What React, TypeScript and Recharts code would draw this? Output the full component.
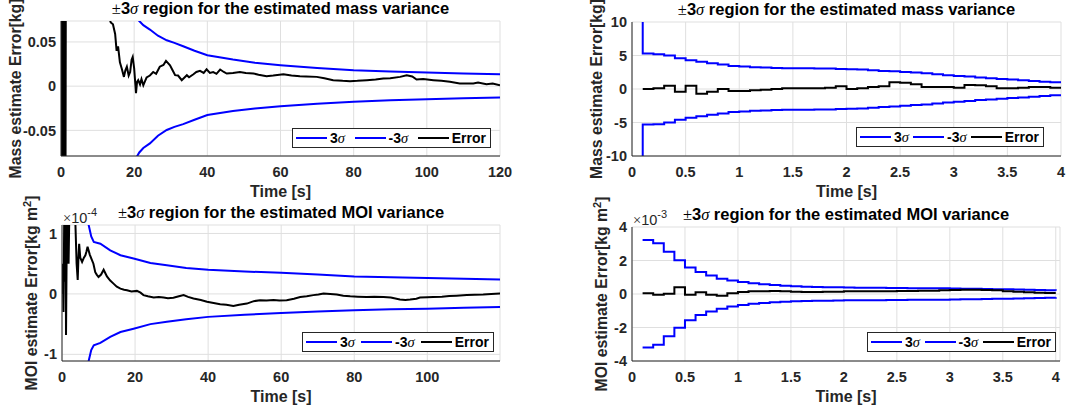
import React from 'react';
import { LineChart, Line, XAxis, YAxis, CartesianGrid, Legend } from 'recharts';

// ---------------- Data ----------------
// Top-left: mass estimate error over 0–120 s  [kg]
const massLongSigmaT = [20, 21.4, 22.5, 24.3, 26.5, 28.9, 31, 33.4, 36.5, 40, 47, 53, 60, 70, 80, 90, 100, 110, 120];
const massLongSigmaUp = [0.079, 0.0737, 0.069, 0.064, 0.057, 0.0519, 0.049, 0.0451, 0.04, 0.035, 0.0301, 0.0265, 0.0237, 0.0205, 0.018, 0.0166, 0.0154, 0.0144, 0.0135];
const massLongSigmaLo = [-0.085, -0.075, -0.07, -0.0647, -0.056, -0.0496, -0.046, -0.0429, -0.038, -0.0327, -0.0282, -0.0252, -0.0226, -0.0198, -0.0177, -0.016, -0.0147, -0.0137, -0.0128];
const massLongErrT = [
  0, 0.15, 0.3, 0.45, 0.6, 0.75, 0.9, 1.05, 1.2, 1.35,
  5, 10, 13, 13.6, 14.2, 14.8, 15.2, 15.6, 16.1, 16.6,
  17.2, 17.6, 18, 18.5, 18.9, 19.3, 19.6, 20, 20.5, 20.8,
  21.1, 21.6, 22, 22.5, 23, 23.4, 24.3, 25.2, 26, 27,
  28, 28.7, 29.8, 30.5, 31.2, 32, 33, 34.4, 35, 36.2,
  37, 38, 39, 39.8, 40.7, 41.6, 42.5, 43.5, 44.5, 45.3,
  47, 48.9, 50.5, 52.6, 54, 56.2, 58, 60.8, 63, 65.3,
  67, 69.9, 72, 74.4, 77, 79, 81, 83.6, 86, 88.1,
  90, 92.7, 94.5, 96, 97.2, 99, 101.8, 104, 106.3, 109,
  112.7, 114, 116.3, 118, 120,
];
const massLongErr = [
  0, 0.3, -0.3, 0.3, -0.3, 0.25, -0.25, 0.2, -0.2, 0.2,
  0.15, 0.1, 0.08, 0.072, 0.07, 0.059, 0.04, 0.045, 0.027, 0.02,
  0.0105, 0.018, 0.022, 0.012, 0.016, 0.03, 0.033, 0.02, -0.008, 0.005,
  0.0068, 0.002, 0.008, 0.001, 0.006, 0.0098, 0.012, 0.016, 0.014, 0.022,
  0.024, 0.0286, 0.0237, 0.018, 0.0124, 0.012, 0.0068, 0.0124, 0.01, 0.0135,
  0.016, 0.0173, 0.015, 0.019, 0.015, 0.016, 0.014, 0.0188, 0.016, 0.0143,
  0.015, 0.016, 0.015, 0.0143, 0.013, 0.0113, 0.012, 0.0135, 0.012, 0.0113,
  0.011, 0.0105, 0.009, 0.0068, 0.006, 0.0056, 0.006, 0.0068, 0.0075, 0.0086,
  0.009, 0.0105, 0.0124, 0.011, 0.0075, 0.008, 0.0068, 0.006, 0.0049, 0.003,
  0.003, 0.004, 0.0023, 0.003, 0.0011,
];

// Right panels: stair samples every 0.1 s  [s]
const stepTimes = [0.1, 0.2, 0.3, 0.4, 0.5, 0.6, 0.7, 0.8, 0.9, 1.0, 1.1, 1.2, 1.3, 1.4, 1.5, 1.6, 1.7, 1.8, 1.9, 2.0,
  2.1, 2.2, 2.3, 2.4, 2.5, 2.6, 2.7, 2.8, 2.9, 3.0, 3.1, 3.2, 3.3, 3.4, 3.5, 3.6, 3.7, 3.8, 3.9, 4.0];

// Top-right: mass estimate error over 0–4 s  [kg] (first sample is the large initial bound)
const massShortSigmaT = [0.1, ...stepTimes];
const massShortSigmaUp = [30, 5.3, 5.2, 5.0, 4.6, 4.3, 4.05, 3.85, 3.65, 3.45, 3.35, 3.25, 3.2, 3.15, 3.1, 3.1, 3.1, 3.05, 3.05, 3.0, 2.95,
  2.9, 2.8, 2.7, 2.65, 2.55, 2.45, 2.35, 2.2, 2.05, 1.95, 1.85, 1.7, 1.6, 1.5, 1.4, 1.3, 1.2, 1.1, 1.0, 0.9];
const massShortSigmaLo = [-30, -5.3, -5.25, -5.0, -4.6, -4.3, -4.05, -3.85, -3.65, -3.45, -3.35, -3.25, -3.2, -3.15, -3.1, -3.1, -3.1, -3.05, -3.05, -3.0, -2.95,
  -2.9, -2.8, -2.7, -2.6, -2.5, -2.4, -2.3, -2.15, -2.0, -1.9, -1.8, -1.65, -1.55, -1.45, -1.35, -1.25, -1.15, -1.05, -0.95, -0.9];
const massShortErr = [0.0, 0.1, 0.5, -0.4, 0.5, -0.7, -0.4, 0.0, -0.3, -0.3,
  -0.2, -0.1, 0.0, 0.1, 0.1, 0.1, 0.1, 0.2, 0.4, 0.0,
  0.1, 0.3, 0.4, 1.0, 0.95, 0.7, 0.3, 0.3, 0.3, 0.2,
  0.6, 0.55, 0.4, 0.1, 0.1, 0.2, 0.3, 0.3, 0.2, 0.2];

// Bottom-left: MOI estimate error over 0–120 s  [x1e-4 kg m^2]
const moiLongSigmaT = [7, 7.3, 8.0, 8.7, 10.5, 13.2, 16, 19.6, 24.2, 28.7, 34, 40, 50, 60, 70, 80, 90, 100, 110, 119.9];
const moiLongSigmaUp = [1.3, 1.14, 0.95, 0.86, 0.83, 0.72, 0.64, 0.585, 0.51, 0.475, 0.43, 0.4, 0.37, 0.35, 0.32, 0.29, 0.275, 0.265, 0.25, 0.237];
const moiLongSigmaLo = [-1.3, -1.11, -0.93, -0.85, -0.81, -0.71, -0.63, -0.575, -0.5, -0.46, -0.42, -0.38, -0.345, -0.315, -0.29, -0.27, -0.255, -0.245, -0.23, -0.215];
const moiLongErrT = [
  0, 0.2, 0.4, 0.6, 0.8, 1.0, 1.1, 1.3, 1.5, 1.8,
  2.0, 2.5, 3.0, 3.6, 4.0, 4.3, 4.5, 4.7, 5.0, 5.5,
  6.0, 6.4, 6.7, 7.0, 7.6, 8.2, 8.6, 9.1, 9.5, 10,
  10.7, 11.4, 11.8, 12.3, 13.2, 14.1, 15, 16, 17, 17.8,
  19, 20.5, 21.5, 22.3, 23.5, 25.1, 26.5, 27.8, 29, 30.5,
  32, 33.3, 34.5, 36, 38, 39.7, 41.5, 43.3, 45, 46.9,
  48.5, 50.6, 52.5, 54.2, 56, 57.9, 59.5, 61.5, 63.5, 65.2,
  67, 68.8, 70.2, 71.6, 73.4, 75.2, 77, 78.9, 81, 83.4,
  85.5, 88, 90, 92.5, 94, 95.3, 97, 98, 100, 101.6,
  104, 106, 108, 110.8, 113, 115.3, 117.5, 119.9,
];
const moiLongErr = [
  0, 0.5, -0.3, 1.2, 0.2, 1.2, -0.68, 0.9, 1.2, 0.5,
  1.3, 1.5, 1.5, 1.3, 0.5, 0.23, 0.6, 0.83, 0.6, 0.53,
  0.6, 0.64, 0.7, 0.78, 0.65, 0.56, 0.5, 0.36, 0.32, 0.28,
  0.32, 0.4, 0.35, 0.29, 0.22, 0.17, 0.12, 0.088, 0.07, 0.06,
  0.04, 0.05, 0.02, -0.02, -0.04, -0.06, -0.05, -0.06, -0.07, -0.065,
  -0.04, -0.02, -0.05, -0.077, -0.1, -0.13, -0.15, -0.17, -0.18, -0.2,
  -0.18, -0.16, -0.12, -0.105, -0.11, -0.1, -0.11, -0.105, -0.08, -0.05,
  -0.04, -0.02, -0.01, 0.005, 0.0, -0.01, -0.03, -0.04, -0.045, -0.05,
  -0.045, -0.05, -0.06, -0.094, -0.1, -0.094, -0.08, -0.06, -0.055, -0.05,
  -0.045, -0.035, -0.03, -0.02, -0.015, -0.01, 0.0, 0.005,
];

// Bottom-right: MOI estimate error over 0–4 s  [x1e-3 kg m^2]
const moiShortSigmaUp = [3.23, 3.03, 2.52, 2.02, 1.58, 1.31, 1.11, 0.91, 0.81, 0.71,
  0.64, 0.58, 0.53, 0.49, 0.46, 0.44, 0.42, 0.41, 0.4, 0.39,
  0.38, 0.37, 0.37, 0.36, 0.36, 0.35, 0.35, 0.34, 0.34, 0.33,
  0.32, 0.31, 0.3, 0.29, 0.28, 0.27, 0.26, 0.24, 0.22, 0.2];
const moiShortSigmaLo = [-3.19, -3.03, -2.52, -2.02, -1.56, -1.25, -1.05, -0.88, -0.75, -0.65,
  -0.58, -0.53, -0.49, -0.46, -0.44, -0.42, -0.41, -0.4, -0.39, -0.38,
  -0.38, -0.37, -0.37, -0.36, -0.36, -0.35, -0.35, -0.34, -0.34, -0.33,
  -0.32, -0.31, -0.3, -0.29, -0.28, -0.27, -0.26, -0.24, -0.22, -0.2];
const moiShortErr = [0.04, -0.04, 0.02, 0.4, -0.04, 0.1, -0.04, -0.1, 0.04, 0.12,
  0.16, 0.16, 0.18, 0.16, 0.14, 0.12, 0.12, 0.14, 0.14, 0.16,
  0.16, 0.16, 0.16, 0.17, 0.18, 0.18, 0.2, 0.2, 0.22, 0.24,
  0.26, 0.26, 0.24, 0.22, 0.16, 0.14, 0.1, 0.08, 0.06, 0.06];

// Axis ticks
const longXTicks = [0, 20, 40, 60, 80, 100, 120];
const longXTicksMoi = [0, 20, 40, 60, 80, 100];
const shortXTicks = [0, 0.5, 1, 1.5, 2, 2.5, 3, 3.5, 4];
const massLongYTicks = [-0.05, 0, 0.05];
const massShortYTicks = [-10, -5, 0, 5, 10];
const moiLongYTicks = [-1, 0, 1];
const moiShortYTicks = [-4, -2, 0, 2, 4];
const legendOrder = ['3σ', '-3σ', 'Error'];

// ---------------- Styling ----------------
const SANS = '"Liberation Sans", Arial, Helvetica, sans-serif';
const SERIF = '"Liberation Serif", "DejaVu Serif", serif';
const AX = '#262626';
const GRID = '#dfdfdf';
const BLUE = '#0000ff';
const XH = 44;

type Series = { name: string; t: number[]; v: number[]; color: string; step: boolean; width: number };

const zip = (t: number[], v: number[]) => t.map((x, i) => ({ t: x, v: v[i] }));

const EmptyTick = () => <g />;

const sigmaText = (name: string) => {
  const i = name.indexOf('σ');
  if (i < 0) return <span>{name}</span>;
  return (
    <span>
      {name.slice(0, i)}
      <span style={{ fontFamily: SERIF, fontStyle: 'italic', fontWeight: 'normal', fontSize: 14.5 }}>σ</span>
      {name.slice(i + 1)}
    </span>
  );
};

const LegendBox = (props: any) => {
  const items = [...(props.payload || [])].sort(
    (a: any, b: any) => legendOrder.indexOf(a.value) - legendOrder.indexOf(b.value)
  );
  return (
    <div
      style={{
        boxSizing: 'border-box', width: '100%', height: 20, border: `1px solid ${AX}`, background: '#fff',
        display: 'flex', alignItems: 'center', justifyContent: 'space-between', padding: '0 4px 0 3px',
        fontFamily: SANS, fontWeight: 'bold', fontSize: 14, color: '#000', lineHeight: '18px', whiteSpace: 'nowrap',
      }}
    >
      {items.map((it: any) => (
        <span key={it.value} style={{ display: 'flex', alignItems: 'center' }}>
          <svg width={31} height={4} style={{ marginRight: 3 }}>
            <line x1={0} y1={2} x2={31} y2={2} stroke={it.color} strokeWidth={2} />
          </svg>
          {sigmaText(it.value)}
        </span>
      ))}
    </div>
  );
};

const makeXLabel = () => (props: any) => {
  const vb = props.viewBox || { x: 0, y: 0, width: 0 };
  return (
    <text x={vb.x + vb.width / 2} y={vb.y + 41} textAnchor="middle" fontFamily={SANS} fontWeight="bold" fontSize={16} fill={AX}>
      Time [s]
    </text>
  );
};

// Y-axis label, plus the panel title and exponent (placed relative to the plot box)
const makeYLabel = (kind: 'mass' | 'moi', baseline: number, word: string, plotW: number, exponent?: string) => (props: any) => {
  const vb = props.viewBox || { x: 0, y: 0, width: 0, height: 0 };
  const x = vb.x + baseline;
  const y = vb.y + vb.height / 2;
  const plotX = vb.x + vb.width;
  return (
    <g>
      <text x={x} y={y} transform={`rotate(-90, ${x}, ${y})`} textAnchor="middle" fontFamily={SANS} fontWeight="bold" fontSize={15.8} fill={AX}>
        {kind === 'mass' ? (
          'Mass estimate Error[kg]'
        ) : (
          <>
            <tspan>MOI estimate Error[kg m</tspan>
            <tspan dy={-6} fontSize={11}>2</tspan>
            <tspan dy={6}>]</tspan>
          </>
        )}
      </text>
      <text x={plotX + plotW / 2} y={vb.y - 7} textAnchor="middle" fontFamily={SANS} fontWeight="bold" fontSize={16.5} fill="#000">
        <tspan fontFamily={SERIF} fontWeight="normal">±</tspan>
        <tspan>3</tspan>
        <tspan fontFamily={SERIF} fontStyle="italic" fontWeight="normal">σ</tspan>
        <tspan>{` region for the estimated ${word} variance`}</tspan>
      </text>
      {exponent ? (
        <text x={plotX + 1} y={vb.y - 2} fontFamily={SANS} fontSize={14.5} fill={AX}>
          <tspan fontFamily={SERIF}>×</tspan>
          <tspan>10</tspan>
          <tspan dy={-7} fontSize={11}>{exponent}</tspan>
        </text>
      ) : null}
    </g>
  );
};

type PanelProps = {
  left: number; top: number; width: number;
  plotLeft: number; plotTop: number; plotRight: number; plotBottom: number;
  xDomain: [number, number]; xTicks: number[];
  yDomain: [number, number]; yTicks: number[];
  series: Series[];
  word: string; yKind: 'mass' | 'moi'; yBaseline: number; exponent?: string;
  legendLeft: number; legendTop: number; legendWidth: number;
};

const tickStyle = { fill: AX, fontSize: 14.5, fontWeight: 'bold', fontFamily: SANS };

function Panel(p: PanelProps) {
  const height = p.plotBottom + XH;
  const margin = { top: p.plotTop, right: p.width - p.plotRight, bottom: 0, left: 0 };
  const plotW = p.plotRight - p.plotLeft;
  return (
    <div style={{ position: 'absolute', left: p.left, top: p.top, width: p.width, height }}>
      <LineChart width={p.width} height={height} margin={margin}>
        <CartesianGrid xAxisId="main" yAxisId="main" stroke={GRID} strokeWidth={1} />
        <XAxis xAxisId="main" dataKey="t" type="number" domain={p.xDomain} ticks={p.xTicks} allowDataOverflow interval={0}
          height={XH} tickLine={false} tickSize={0} tickMargin={11} axisLine={{ stroke: AX }} stroke={AX}
          tick={tickStyle} label={makeXLabel()} />
        <XAxis xAxisId="topm" dataKey="t" type="number" orientation="top" mirror height={0} domain={p.xDomain} ticks={p.xTicks}
          allowDataOverflow interval={0} tick={EmptyTick} tickLine={{ stroke: AX }} tickSize={5} axisLine={{ stroke: AX }} stroke={AX} />
        <XAxis xAxisId="botm" dataKey="t" type="number" orientation="bottom" mirror height={0} domain={p.xDomain} ticks={p.xTicks}
          allowDataOverflow interval={0} tick={EmptyTick} tickLine={{ stroke: AX }} tickSize={5} axisLine={false} stroke={AX} />
        <YAxis yAxisId="main" type="number" domain={p.yDomain} ticks={p.yTicks} allowDataOverflow interval={0}
          width={p.plotLeft} tickLine={false} tickSize={0} tickMargin={5} axisLine={{ stroke: AX }} stroke={AX}
          tick={tickStyle} label={makeYLabel(p.yKind, p.yBaseline, p.word, plotW, p.exponent)} />
        <YAxis yAxisId="leftm" type="number" orientation="left" mirror width={0} domain={p.yDomain} ticks={p.yTicks}
          allowDataOverflow interval={0} tick={EmptyTick} tickLine={{ stroke: AX }} tickSize={5} axisLine={false} stroke={AX} />
        <YAxis yAxisId="rightm" type="number" orientation="right" mirror width={0} domain={p.yDomain} ticks={p.yTicks}
          allowDataOverflow interval={0} tick={EmptyTick} tickLine={{ stroke: AX }} tickSize={5} axisLine={{ stroke: AX }} stroke={AX} />
        {p.series.map((s) => (
          <Line key={s.name} name={s.name} xAxisId="main" yAxisId="main" data={zip(s.t, s.v)} dataKey="v"
            type={s.step ? 'stepAfter' : 'linear'} stroke={s.color} strokeWidth={s.width} dot={false} activeDot={false}
            isAnimationActive={false} legendType="line" />
        ))}
        <Legend layout="vertical" align="center" verticalAlign="middle" content={LegendBox}
          wrapperStyle={{ left: p.legendLeft - p.left, top: p.legendTop - p.top, width: p.legendWidth, height: 20 }} />
      </LineChart>
    </div>
  );
}

export default function App() {
  return (
    <div style={{ position: 'absolute', left: 0, top: 0, width: 1073, height: 413, background: '#fff', overflow: 'hidden' }}>
      <Panel left={0} top={0} width={520} plotLeft={61} plotTop={21} plotRight={500} plotBottom={156}
        xDomain={[0, 120]} xTicks={longXTicks} yDomain={[-0.079, 0.0737]} yTicks={massLongYTicks}
        series={[
          { name: '3σ', t: massLongSigmaT, v: massLongSigmaUp, color: BLUE, step: false, width: 2 },
          { name: '-3σ', t: massLongSigmaT, v: massLongSigmaLo, color: BLUE, step: false, width: 2 },
          { name: 'Error', t: massLongErrT, v: massLongErr, color: '#000', step: false, width: 2 },
        ]}
        word="mass" yKind="mass" yBaseline={20.5}
        legendLeft={292} legendTop={128} legendWidth={199} />
      <Panel left={560} top={0} width={513} plotLeft={72} plotTop={22} plotRight={501} plotBottom={156}
        xDomain={[0, 4]} xTicks={shortXTicks} yDomain={[-10, 10]} yTicks={massShortYTicks}
        series={[
          { name: '3σ', t: massShortSigmaT, v: massShortSigmaUp, color: BLUE, step: true, width: 2 },
          { name: '-3σ', t: massShortSigmaT, v: massShortSigmaLo, color: BLUE, step: true, width: 2 },
          { name: 'Error', t: stepTimes, v: massShortErr, color: '#000', step: true, width: 2 },
        ]}
        word="mass" yKind="mass" yBaseline={41.5}
        legendLeft={856} legendTop={127} legendWidth={188} />
      <Panel left={0} top={190} width={520} plotLeft={62} plotTop={35} plotRight={500} plotBottom={171}
        xDomain={[0, 119.9]} xTicks={longXTicksMoi} yDomain={[-1.11, 1.14]} yTicks={moiLongYTicks}
        series={[
          { name: '3σ', t: moiLongSigmaT, v: moiLongSigmaUp, color: BLUE, step: false, width: 2 },
          { name: '-3σ', t: moiLongSigmaT, v: moiLongSigmaLo, color: BLUE, step: false, width: 2 },
          { name: 'Error', t: moiLongErrT, v: moiLongErr, color: '#000', step: false, width: 2 },
        ]}
        word="MOI" yKind="moi" yBaseline={37} exponent="-4"
        legendLeft={302} legendTop={332} legendWidth={192} />
      <Panel left={560} top={190} width={513} plotLeft={72} plotTop={37} plotRight={500} plotBottom={171}
        xDomain={[0, 4.04]} xTicks={shortXTicks} yDomain={[-4, 4]} yTicks={moiShortYTicks}
        series={[
          { name: '3σ', t: stepTimes, v: moiShortSigmaUp, color: BLUE, step: true, width: 2 },
          { name: '-3σ', t: stepTimes, v: moiShortSigmaLo, color: BLUE, step: true, width: 2 },
          { name: 'Error', t: stepTimes, v: moiShortErr, color: '#000', step: true, width: 2 },
        ]}
        word="MOI" yKind="moi" yBaseline={46.5} exponent="-3"
        legendLeft={867} legendTop={332} legendWidth={189} />
    </div>
  );
}
